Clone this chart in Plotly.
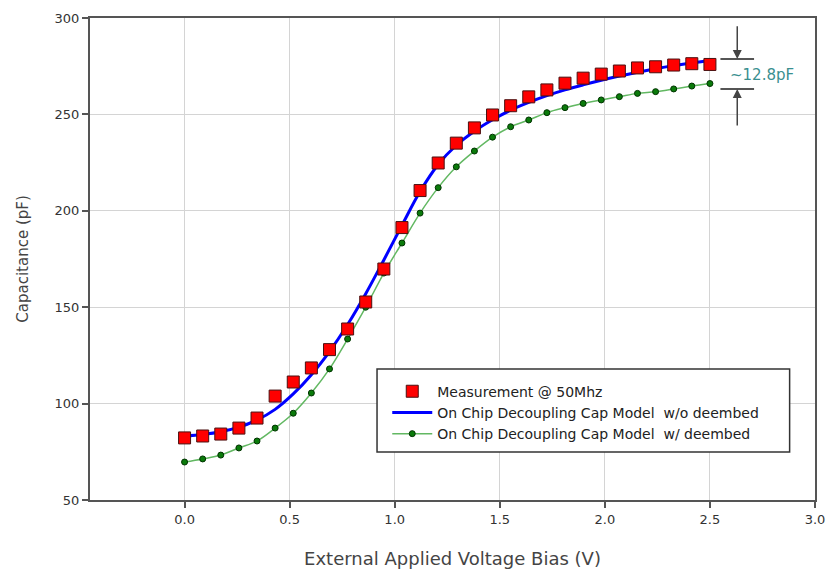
import plotly.graph_objects as go

# Bias points (V): 30 points from 0 to 2.5
voltage = [round(i * 2.5 / 29, 4) for i in range(30)]

measured = [82.2, 83.2, 84.2, 87.3, 92.5, 103.9, 111.2, 118.5, 128.0, 138.7,
            152.7, 169.8, 191.3, 210.5, 224.8, 235.1, 243.0, 249.7, 254.5, 259.1,
            262.7, 266.2, 268.8, 270.9, 272.5, 274.1, 274.7, 275.6, 276.3, 275.9]

model_wo = [83.2, 84.0, 85.4, 87.8, 91.5, 97.0, 105.0, 115.0, 127.0, 141.0,
            157.0, 174.5, 192.5, 210.0, 224.0, 234.0, 241.3, 247.2, 252.2, 256.2,
            259.7, 262.7, 265.3, 267.7, 269.9, 271.9, 273.7, 275.3, 276.7, 278.0]

model_w = [69.7, 71.3, 73.3, 77.0, 80.6, 87.3, 95.0, 105.5, 118.0, 133.5,
           150.0, 167.7, 183.3, 198.8, 212.0, 222.8, 231.0, 238.2, 243.6, 247.1,
           250.9, 253.5, 255.7, 257.5, 259.2, 260.9, 261.8, 263.2, 264.7, 266.0]

x_ticks = [0.0, 0.5, 1.0, 1.5, 2.0, 2.5, 3.0]
y_ticks = [50, 100, 150, 200, 250, 300]

FONT = "DejaVu Sans, Verdana, sans-serif"

fig = go.Figure()

fig.add_trace(go.Scatter(
    x=voltage, y=model_w, mode="lines+markers",
    name="On Chip Decoupling Cap Model  w/ deembed",
    line=dict(color="#62b862", width=1.5, shape="spline"),
    marker=dict(symbol="circle", size=6, color="#0a7a0a",
                line=dict(color="#003300", width=1)),
))
fig.add_trace(go.Scatter(
    x=voltage, y=model_wo, mode="lines",
    name="On Chip Decoupling Cap Model  w/o deembed",
    line=dict(color="#0000ff", width=3, shape="spline"),
))
fig.add_trace(go.Scatter(
    x=voltage, y=measured, mode="markers",
    name="Measurement @ 50Mhz",
    marker=dict(symbol="square", size=12, color="#ff0000",
                line=dict(color="#4a1010", width=1)),
))

# legend frame
fig.add_shape(type="rect", xref="paper", yref="paper",
              x0=0.3959, x1=0.965, y0=0.0996, y1=0.2718,
              fillcolor="white", line=dict(color="#333333", width=1.5),
              layer="above")

# annotation: ~12.8pF gap marker
ann_x0, ann_x1, ann_xc = 2.55, 2.71, 2.63
y_top, y_bot = 278.7, 263.2
for yy in (y_top, y_bot):
    fig.add_shape(type="line", x0=ann_x0, x1=ann_x1, y0=yy, y1=yy,
                  line=dict(color="#555555", width=2), xref="x", yref="y")
fig.add_annotation(x=ann_xc, y=y_top, ax=ann_xc, ay=296.5, xref="x", yref="y",
                   axref="x", ayref="y", showarrow=True, arrowhead=2,
                   arrowsize=1.2, arrowwidth=1.5, arrowcolor="#444444", text="")
fig.add_annotation(x=ann_xc, y=y_bot, ax=ann_xc, ay=243.5, xref="x", yref="y",
                   axref="x", ayref="y", showarrow=True, arrowhead=2,
                   arrowsize=1.2, arrowwidth=1.5, arrowcolor="#444444", text="")
fig.add_annotation(x=2.585, y=270.6, xref="x", yref="y", text="~12.8pF",
                   showarrow=False, xanchor="left",
                   font=dict(family=FONT, size=15, color="#3a8f8f"))

fig.update_layout(
    width=826, height=574,
    margin=dict(l=90, r=11, t=18, b=74),
    paper_bgcolor="white", plot_bgcolor="white",
    font=dict(family=FONT, size=13, color="#333333"),
    showlegend=True,
    legend=dict(x=0.410, y=0.258, xanchor="left", yanchor="top",
                bgcolor="rgba(0,0,0,0)", borderwidth=0,
                traceorder="reversed",
                font=dict(family=FONT, size=14, color="#222222"),
                itemwidth=40, tracegroupgap=0),
    xaxis=dict(range=[-0.45, 3.0], tickvals=x_ticks,
               ticktext=[f"{v:.1f}" for v in x_ticks],
               showgrid=True, gridcolor="#d4d4d4", gridwidth=1,
               zeroline=False, showline=True, linecolor="#555555", linewidth=2,
               mirror=True, ticks="outside", ticklen=6, tickcolor="#555555",
               tickwidth=1.5, tickfont=dict(size=13), automargin=False,
               title=dict(text="External Applied Voltage Bias (V)",
                          font=dict(family=FONT, size=18, color="#444444"),
                          standoff=27)),
    yaxis=dict(range=[50, 300], tickvals=y_ticks,
               showgrid=True, gridcolor="#d4d4d4", gridwidth=1,
               zeroline=False, showline=True, linecolor="#555555", linewidth=2,
               mirror=True, ticks="outside", ticklen=6, tickcolor="#555555",
               tickwidth=1.5, tickfont=dict(size=13), automargin=False,
               title=dict(text="Capacitance (pF)",
                          font=dict(family=FONT, size=15, color="#444444"),
                          standoff=22)),
)

fig.write_html("out.html")
